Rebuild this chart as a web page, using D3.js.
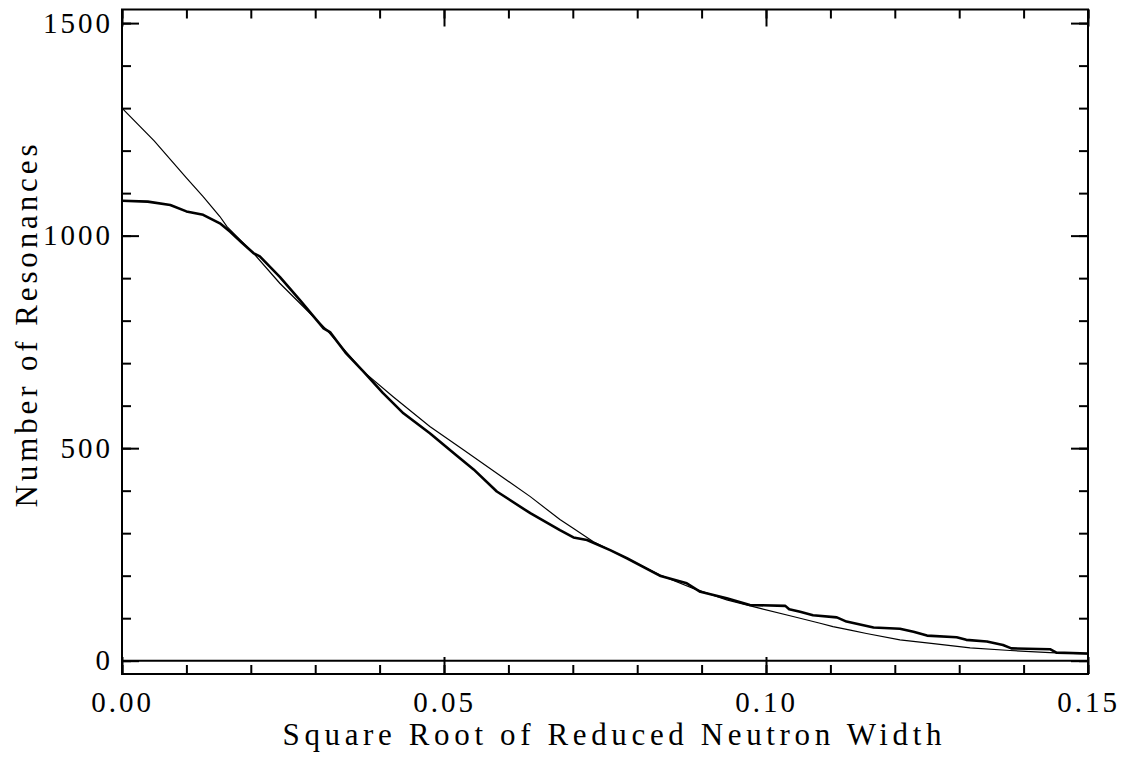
<!DOCTYPE html>
<html>
<head>
<meta charset="utf-8">
<script src="https://cdn.jsdelivr.net/npm/d3@7"></script>
<style>
  body { margin: 0; background: #fff; }
  svg { display: block; }
  text { font-family: "Liberation Serif", "Times New Roman", serif; fill: #000; }
</style>
</head>
<body>
<svg id="chart" width="1130" height="757"></svg>
<script>
// fitted curve (thin line)
const fitX = [0.000, 0.005, 0.010, 0.0126, 0.0152, 0.0163, 0.0204, 0.0245, 0.0318, 0.0375,
  0.0421, 0.0478, 0.0530, 0.0582, 0.0634, 0.0680, 0.0700, 0.0732, 0.0784, 0.0835, 0.0887,
  0.0939, 0.0991, 0.1042, 0.1084, 0.1104, 0.1131, 0.1156, 0.1208, 0.1260, 0.1317, 0.1379,
  0.1441, 0.1500];
const fitN = [1300, 1223, 1136, 1092, 1045, 1021, 959, 888, 778, 680,
  621, 551, 496, 441, 386, 332, 312, 280, 241, 202, 170,
  143, 123, 104, 88, 80, 72, 64, 49, 40, 30, 24,
  19, 16];

// observed cumulative count (thick line)
const dataX = [0.000, 0.004, 0.0075, 0.010, 0.0126, 0.0152, 0.0168, 0.0185, 0.0204, 0.0214,
  0.0245, 0.0276, 0.0313, 0.0323, 0.0347, 0.0375, 0.0405, 0.0437, 0.0478, 0.0520, 0.0546,
  0.0582, 0.0634, 0.0680, 0.0701, 0.0722, 0.0758, 0.0784, 0.0835, 0.0877, 0.0898, 0.0939,
  0.0975, 0.1030, 0.1036, 0.1053, 0.1073, 0.1110, 0.1125, 0.1167, 0.1208, 0.1229, 0.1250,
  0.1296, 0.1311, 0.1343, 0.1368, 0.1381, 0.1441, 0.1451, 0.1500];
const dataN = [1082, 1080, 1072, 1057, 1049, 1029, 1009, 985, 959, 951,
  903, 849, 782, 773, 725, 680, 630, 582, 535, 482, 450,
  398, 347, 307, 290, 284, 260, 241, 200, 182, 162, 147,
  131, 129, 121, 115, 107, 102, 92, 78, 75, 68, 59,
  55, 49, 45, 37, 29, 27, 19, 17];

const xMajor = [0, 0.05, 0.10, 0.15];
const xMinor = d3.range(0, 0.1501, 0.01);
const yMajor = [0, 500, 1000, 1500];
const yMinor = d3.range(0, 1501, 100);

const plotLeft = 122, plotRight = 1088, plotTop = 9.5, plotBottom = 674;

const svg = d3.select("#chart");
svg.append("rect").attr("width", 1130).attr("height", 757).attr("fill", "#fff");

const x = d3.scaleLinear().domain([0, 0.15]).range([plotLeft, plotRight]);
const y = d3.scaleLinear().domain([-31.3, 1532]).range([plotBottom, plotTop]);

function styleAxis(g) {
  g.select(".domain").remove();
  g.selectAll(".tick line").attr("stroke", "#000").attr("stroke-width", 2);
  g.selectAll(".tick text")
    .style("font-size", "29px")
    .style("letter-spacing", "3px")
    .attr("fill", "#000");
}

// bottom
svg.append("g").attr("transform", `translate(0,${plotBottom})`)
  .call(d3.axisBottom(x).tickValues(xMinor).tickSize(-9).tickFormat(""))
  .call(styleAxis);
svg.append("g").attr("transform", `translate(0,${plotBottom})`)
  .call(d3.axisBottom(x).tickValues(xMajor).tickSize(-17).tickPadding(17).tickFormat(d3.format(".2f")))
  .call(styleAxis);
// top
svg.append("g").attr("transform", `translate(0,${plotTop})`)
  .call(d3.axisTop(x).tickValues(xMinor).tickSize(-9).tickFormat(""))
  .call(styleAxis);
svg.append("g").attr("transform", `translate(0,${plotTop})`)
  .call(d3.axisTop(x).tickValues(xMajor).tickSize(-17).tickFormat(""))
  .call(styleAxis);
// left
svg.append("g").attr("transform", `translate(${plotLeft},0)`)
  .call(d3.axisLeft(y).tickValues(yMinor).tickSize(-9).tickFormat(""))
  .call(styleAxis);
svg.append("g").attr("transform", `translate(${plotLeft},0)`)
  .call(d3.axisLeft(y).tickValues(yMajor).tickSize(-17).tickPadding(9).tickFormat(d3.format("d")))
  .call(styleAxis);
// right
svg.append("g").attr("transform", `translate(${plotRight},0)`)
  .call(d3.axisRight(y).tickValues(yMinor).tickSize(-9).tickFormat(""))
  .call(styleAxis);
svg.append("g").attr("transform", `translate(${plotRight},0)`)
  .call(d3.axisRight(y).tickValues(yMajor).tickSize(-17).tickFormat(""))
  .call(styleAxis);

// frame and zero line
svg.append("rect")
  .attr("x", plotLeft).attr("y", plotTop)
  .attr("width", plotRight - plotLeft).attr("height", plotBottom - plotTop)
  .attr("fill", "none").attr("stroke", "#000").attr("stroke-width", 2);
svg.append("line")
  .attr("x1", plotLeft).attr("x2", plotRight)
  .attr("y1", y(0)).attr("y2", y(0))
  .attr("stroke", "#000").attr("stroke-width", 2);

const line = d3.line().x(d => x(d[0])).y(d => y(d[1]));

svg.append("path")
  .datum(fitX.map((v, i) => [v, fitN[i]]))
  .attr("d", line)
  .attr("fill", "none").attr("stroke", "#000").attr("stroke-width", 1.2);

svg.append("path")
  .datum(dataX.map((v, i) => [v, dataN[i]]))
  .attr("d", line)
  .attr("fill", "none").attr("stroke", "#000").attr("stroke-width", 2.6)
  .attr("stroke-linejoin", "round");

// axis titles
svg.append("text")
  .attr("x", 612).attr("y", 745)
  .attr("text-anchor", "middle")
  .attr("textLength", 659).attr("lengthAdjust", "spacing")
  .style("font-size", "31px")
  .text("Square Root of Reduced Neutron Width");

svg.append("text")
  .attr("transform", "translate(37,326) rotate(-90)")
  .attr("text-anchor", "middle")
  .attr("textLength", 363).attr("lengthAdjust", "spacing")
  .style("font-size", "31px")
  .text("Number of Resonances");
</script>
</body>
</html>
